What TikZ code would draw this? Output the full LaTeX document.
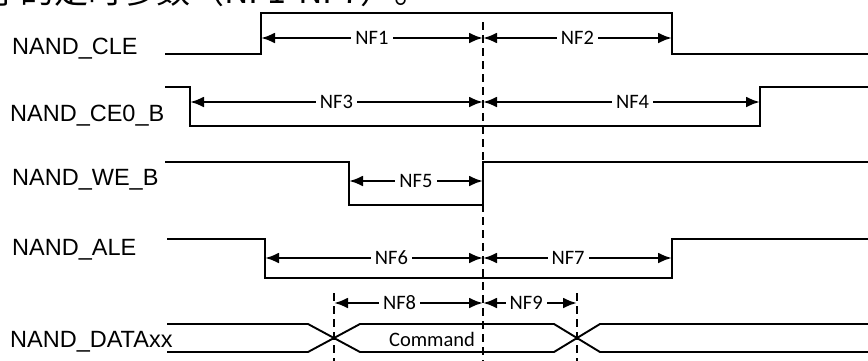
\documentclass[tikz,border=0pt]{standalone}
\usepackage{fontspec}
\setmainfont{Liberation Sans}
\newfontfamily\calib{Carlito}
\newfontfamily\cjk{Noto Sans CJK SC}
\usetikzlibrary{arrows.meta}

\begin{document}
\begin{tikzpicture}[
  x=1pt, y=-1pt,
  >={Latex[length=14pt,width=11pt]},
  sig/.style={line width=1.9pt},
  dim/.style={<->, line width=2.6pt},
  tline/.style={line width=1.9pt, dash pattern=on 8pt off 5pt},
  signame/.style={anchor=base west, inner sep=0pt, font=\fontsize{23.5}{28}\selectfont},
  lbl/.style={fill=white, inner xsep=4pt, inner ysep=1pt, font=\calib\fontsize{20.5}{24}\selectfont}
]
\useasboundingbox (0,0) rectangle (868,360);

% caption line, cut at the top
\node[anchor=base west, inner sep=0pt, font=\cjk\fontsize{34}{40}\selectfont] (cap) at (-14,3) {序的定时参数（NF1-NF7）。};

% signal names
\node[signame] (cle) at (12,54) {NAND\_CLE};
\node[signame] (ce)  at (10,121) {NAND\_CE0\_B};
\node[signame] (we)  at (12,185) {NAND\_WE\_B};
\node[signame] (ale) at (12,255) {NAND\_ALE};
\node[signame] (dat) at (10,347) {NAND\_DATAxx};

% waveforms
\draw[sig] (165,54) -- (261,54) -- (261,13) -- (672,13) -- (672,54) -- (870,54);
\draw[sig] (165,87) -- (190,87) -- (190,126) -- (760,126) -- (760,87) -- (870,87);
\draw[sig] (165,162) -- (349,162) -- (349,205) -- (483,205) -- (483,162) -- (870,162);
\draw[sig] (167,239) -- (265,239) -- (265,278) -- (672,278) -- (672,239) -- (870,239);
\draw[sig] (167,324) -- (308,324) -- (360,352) -- (554,352) -- (600,324) -- (870,324);
\draw[sig] (167,352) -- (308,352) -- (360,324) -- (554,324) -- (600,352) -- (870,352);
\node[font=\calib\fontsize{20.5}{24}\selectfont, anchor=base] (cmd) at (432,346) {Command};

% timing marks
\coordinate (t0a) at (483,22);  \coordinate (t0b) at (483,362);
\coordinate (t8a) at (334,293); \coordinate (t8b) at (334,362);
\coordinate (t9a) at (577,293); \coordinate (t9b) at (577,362);
\draw[tline] (t0a) -- (t0b);
\draw[tline] (t8a) -- (t8b);
\draw[tline] (t9a) -- (t9b);

% NF1 / NF2
\coordinate (a1) at (261,38); \coordinate (m1) at (483,38); \coordinate (b1) at (672,38);
\draw[dim] (a1) -- node[lbl] (nf1) {NF1} (m1);
\draw[dim] (m1) -- node[lbl] (nf2) {NF2} (b1);
% NF3 / NF4
\coordinate (a2) at (190,102); \coordinate (m2) at (483,102); \coordinate (b2) at (760,102);
\draw[dim] (a2) -- node[lbl] (nf3) {NF3} (m2);
\draw[dim] (m2) -- node[lbl, pos=0.54] (nf4) {NF4} (b2);
% NF5
\coordinate (a3) at (349,181); \coordinate (m3) at (483,181);
\draw[dim] (a3) -- node[lbl] (nf5) {NF5} (m3);
% NF6 / NF7
\coordinate (a4) at (265,258); \coordinate (m4) at (483,258); \coordinate (b4) at (672,258);
\draw[dim] (a4) -- node[lbl, pos=0.58] (nf6) {NF6} (m4);
\draw[dim] (m4) -- node[lbl, pos=0.45] (nf7) {NF7} (b4);
% NF8 / NF9
\coordinate (a5) at (334,303); \coordinate (m5) at (483,303); \coordinate (b5) at (577,303);
\draw[dim] (a5) -- node[lbl, pos=0.44] (nf8) {NF8} (m5);
\draw[dim] (m5) -- node[lbl, pos=0.46] (nf9) {NF9} (b5);
\end{tikzpicture}
\end{document}
